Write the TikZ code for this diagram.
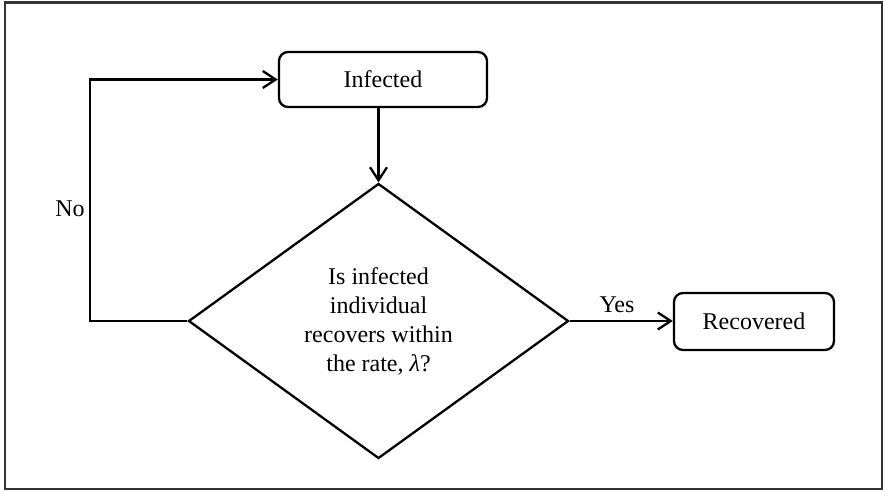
\documentclass[tikz,border=0pt]{standalone}
\usepackage{fontspec}
\setmainfont{Liberation Serif}
\usetikzlibrary{shapes.geometric,arrows.meta}
\begin{document}
\begin{tikzpicture}[x=1pt,y=-1pt,
  every node/.style={font=\fontsize{24}{29}\selectfont},
  stepbox/.style={draw,line width=2.3pt,rounded corners=9pt,inner sep=0pt},
  decision/.style={draw,diamond,line width=2.3pt,inner sep=0pt,align=center},
  flow/.style={line width=2.3pt,-{Straight Barb[length=13pt,width=17pt,line width=2.3pt]}},
  frameline/.style={draw=black!80,line width=2.3pt}]
  \useasboundingbox (0,0) rectangle (885,491);
  \draw[frameline] (5,2.5) rectangle (882,489);

  \node[stepbox,minimum width=208pt,minimum height=55pt] (inf) at (383,79.5) {Infected};
  \node[decision,minimum width=380pt,minimum height=275pt] (dia) at (378.5,321)
    {Is infected\\individual\\recovers within\\the rate, \textit{λ}?};
  \node[stepbox,minimum width=160pt,minimum height=57pt] (rec) at (754,321.5) {Recovered};

  \draw[flow] (inf.south -| dia.north) -- (dia.north);
  \draw[flow] (dia.east) -- (rec.west |- dia.east);
  \coordinate (noturn) at (90,321);
  \draw[flow] (dia.west) -- (noturn) |- (inf.west);

  \node (no) at (70,209) {No};
  \node (yes) at (617,305) {Yes};
\end{tikzpicture}
\end{document}
